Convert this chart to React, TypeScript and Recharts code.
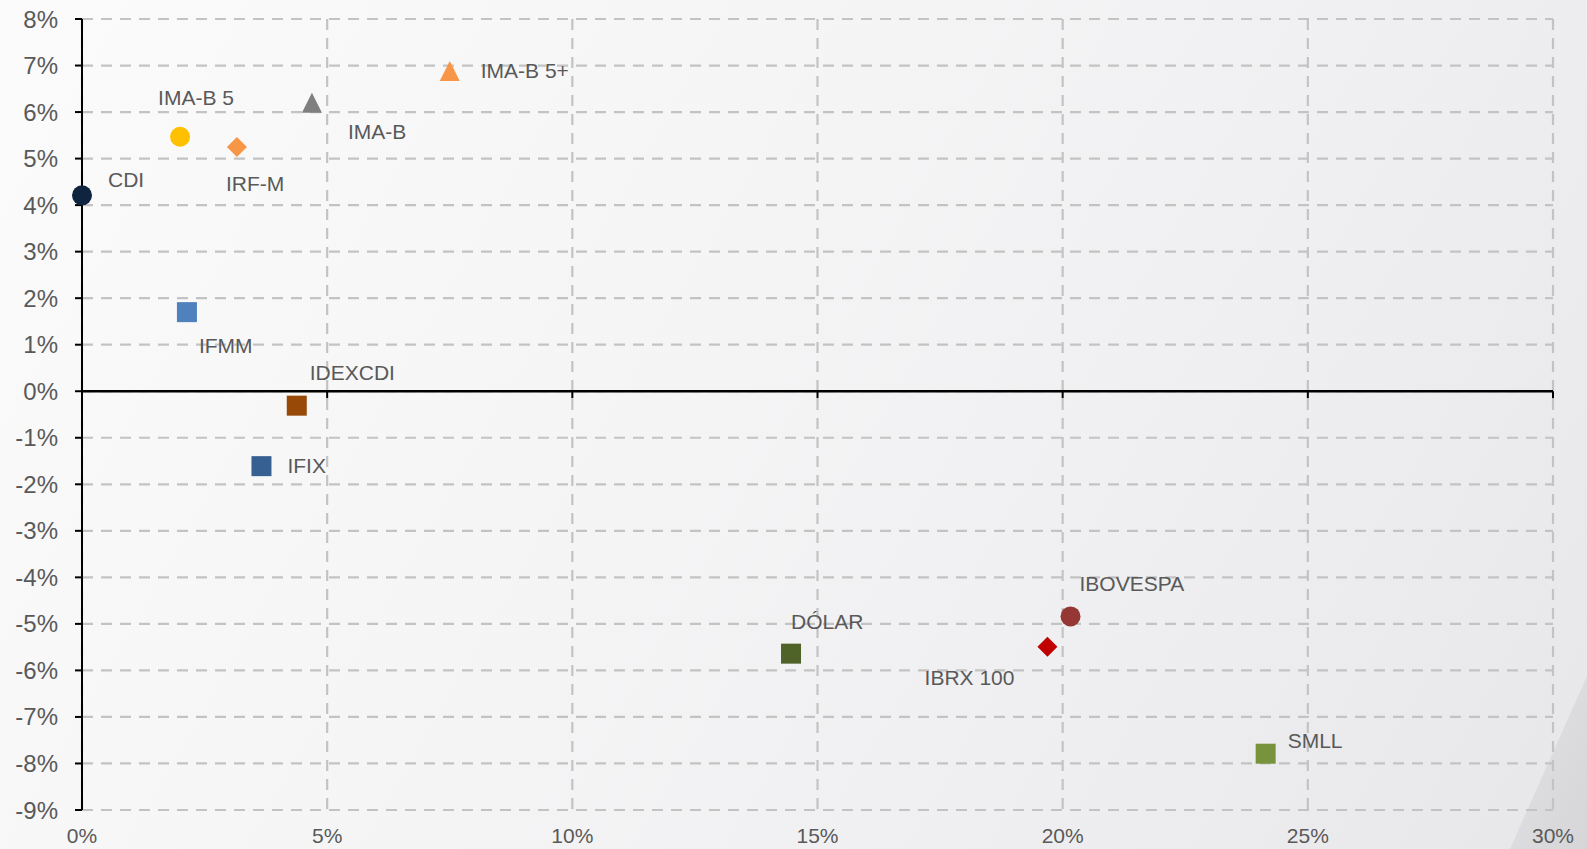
import React from "react";
import {
  ScatterChart,
  Scatter,
  XAxis,
  YAxis,
  CartesianGrid,
  ReferenceLine,
} from "recharts";

// ---- data ----
const names = [
  "CDI",
  "IMA-B 5",
  "IRF-M",
  "IMA-B",
  "IMA-B 5+",
  "IFMM",
  "IDEXCDI",
  "IFIX",
  "DÓLAR",
  "IBOVESPA",
  "IBRX 100",
  "SMLL",
];
// volatility (x, %)
const volatility = [0.0, 2.0, 3.16, 4.69, 7.5, 2.14, 4.38, 3.66, 14.46, 20.16, 19.69, 24.14];
// return (y, %)
const returns = [4.21, 5.47, 5.25, 6.2, 6.88, 1.7, -0.31, -1.61, -5.64, -4.84, -5.49, -7.79];

const xTicks = [0, 5, 10, 15, 20, 25, 30];
const yTicks = [-9, -8, -7, -6, -5, -4, -3, -2, -1, 0, 1, 2, 3, 4, 5, 6, 7, 8];

// ---- styles (not data) ----
type MarkerStyle = {
  shape: "circle" | "square" | "diamond" | "triangle";
  color: string;
  dx: number;
  dy: number;
  anchor?: "start" | "end";
};
const markerStyles: Record<string, MarkerStyle> = {
  CDI: { shape: "circle", color: "#0f243e", dx: 26, dy: -16 },
  "IMA-B 5": { shape: "circle", color: "#ffc000", dx: -22, dy: -39 },
  "IRF-M": { shape: "diamond", color: "#f79646", dx: -11, dy: 37 },
  "IMA-B": { shape: "triangle", color: "#7f7f7f", dx: 36, dy: 29 },
  "IMA-B 5+": { shape: "triangle", color: "#f79646", dx: 31, dy: 0 },
  IFMM: { shape: "square", color: "#4f81bd", dx: 12, dy: 34 },
  IDEXCDI: { shape: "square", color: "#984807", dx: 13, dy: -33 },
  IFIX: { shape: "square", color: "#376092", dx: 26, dy: 0 },
  "DÓLAR": { shape: "square", color: "#4f6228", dx: 0, dy: -32 },
  IBOVESPA: { shape: "circle", color: "#953735", dx: 9, dy: -33 },
  "IBRX 100": { shape: "diamond", color: "#c00000", dx: -33, dy: 31, anchor: "end" },
  SMLL: { shape: "square", color: "#77933c", dx: 22, dy: -13 },
};

const FONT = "'Liberation Sans', Arial, Helvetica, sans-serif";
const TEXT = "#595959";

const data = names.map((name, i) => ({ name, x: volatility[i], y: returns[i] }));
const zeroAxisTicks = xTicks.map((x) => ({ x, y: 0 }));

const renderMarker = (props: any) => {
  const { cx, cy, payload } = props;
  if (cx == null || cy == null) return <g />;
  const st = markerStyles[payload.name];
  let mark: React.ReactNode = null;
  const s = 10;
  if (st.shape === "circle") {
    mark = <circle cx={cx} cy={cy} r={s} fill={st.color} />;
  } else if (st.shape === "square") {
    mark = <rect x={cx - s} y={cy - s} width={2 * s} height={2 * s} fill={st.color} />;
  } else if (st.shape === "diamond") {
    mark = (
      <polygon
        points={`${cx},${cy - s} ${cx + s},${cy} ${cx},${cy + s} ${cx - s},${cy}`}
        fill={st.color}
      />
    );
  } else {
    mark = (
      <polygon
        points={`${cx},${cy - s} ${cx + s},${cy + s} ${cx - s},${cy + s}`}
        fill={st.color}
      />
    );
  }
  return (
    <g>
      {mark}
      <text
        x={cx + st.dx}
        y={cy + st.dy}
        dy="0.35em"
        textAnchor={st.anchor || "start"}
        fontSize={21}
        fontFamily={FONT}
        fill={TEXT}
      >
        {payload.name}
      </text>
    </g>
  );
};

const renderZeroTick = (props: any) => {
  const { cx, cy } = props;
  if (cx == null || cy == null) return <g />;
  return <line x1={cx} y1={cy} x2={cx} y2={cy + 7} stroke="#000" strokeWidth={2} />;
};

const fmt = (v: number) => `${v}%`;

export default function App() {
  return (
    <div
      style={{
        position: "fixed",
        left: 0,
        top: 0,
        width: 1587,
        height: 849,
        overflow: "hidden",
        background:
          "linear-gradient(120deg, #fbfbfc 0%, #f5f5f6 40%, #efeff1 70%, #e7e7e9 100%)",
        fontFamily: FONT,
      }}
    >
      <svg
        width={1587}
        height={849}
        style={{ position: "absolute", left: 0, top: 0 }}
      >
        <defs>
          <linearGradient id="wedge" x1="0" y1="0" x2="1" y2="1">
            <stop offset="0%" stopColor="#e2e2e4" />
            <stop offset="100%" stopColor="#d6d6d8" />
          </linearGradient>
        </defs>
        <polygon points="1587,676 1510,849 1587,849" fill="url(#wedge)" />
      </svg>
      <div style={{ position: "absolute", left: 0, top: 0 }}>
        <ScatterChart
          width={1587}
          height={849}
          margin={{ top: 19, right: 34, left: 0, bottom: 0 }}
        >
          <CartesianGrid
            stroke="#c3c3c3"
            strokeWidth={2.2}
            strokeDasharray="11 8"
          />
          <XAxis
            type="number"
            dataKey="x"
            domain={[0, 30]}
            ticks={xTicks}
            interval={0}
            tickFormatter={fmt}
            axisLine={false}
            tickLine={false}
            tickSize={0}
            tickMargin={18}
            height={39}
            tick={{ fontSize: 21, fill: TEXT, fontFamily: FONT }}
          />
          <YAxis
            type="number"
            dataKey="y"
            domain={[-9, 8]}
            ticks={yTicks}
            interval={0}
            tickFormatter={fmt}
            width={82}
            axisLine={{ stroke: "#000", strokeWidth: 2 }}
            tickLine={{ stroke: "#000", strokeWidth: 2 }}
            tickSize={7}
            tickMargin={17}
            tick={{ fontSize: 24, fill: TEXT, fontFamily: FONT }}
          />
          <ReferenceLine y={0} stroke="#000" strokeWidth={2.5} />
          <Scatter
            data={zeroAxisTicks}
            shape={renderZeroTick}
            isAnimationActive={false}
          />
          <Scatter data={data} shape={renderMarker} isAnimationActive={false} />
        </ScatterChart>
      </div>
    </div>
  );
}
